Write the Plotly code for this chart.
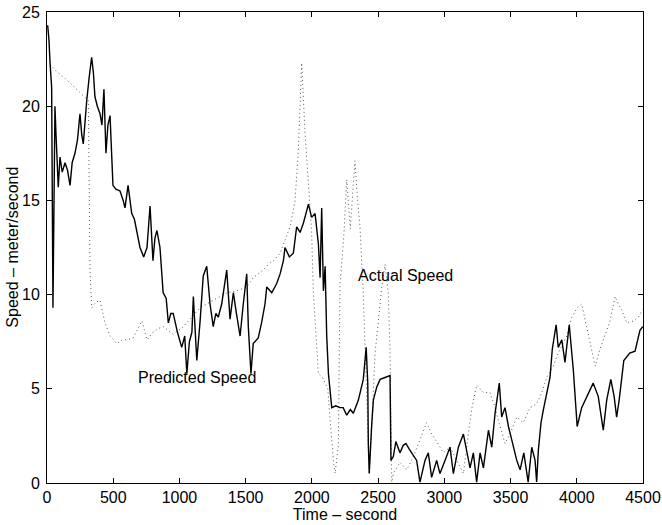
import plotly.graph_objects as go

# Predicted speed (solid line)
pred_t = [5, 15, 23, 35, 45, 52, 60, 68, 78, 85, 98, 115, 136, 155, 174, 190, 211, 230, 249, 262, 274, 288, 300, 318,
          337, 350, 362, 380, 400, 415, 430, 445, 460, 476, 498, 520, 551, 575, 589, 612, 640, 660, 679, 702, 730, 755,
          778, 800, 815, 830, 853, 877, 900, 916, 935, 953, 985, 1017, 1040, 1056, 1075, 1094, 1105, 1131, 1155, 1180,
          1206, 1231, 1255, 1275, 1293, 1319, 1340, 1357, 1382, 1407, 1430, 1458, 1482, 1508, 1520, 1540, 1557, 1595,
          1620, 1646, 1659, 1697, 1735, 1760, 1785, 1797, 1830, 1860, 1885, 1911, 1936, 1974, 1998, 2024, 2049, 2062,
          2074, 2087, 2100, 2112, 2125, 2137, 2150, 2180, 2212, 2236, 2263, 2290, 2313, 2351, 2388, 2410, 2422, 2426,
          2433, 2451, 2464, 2490, 2515, 2552, 2590, 2597, 2615, 2634, 2665, 2690, 2710, 2735, 2753, 2791, 2816, 2854,
          2879, 2904, 2942, 2967, 3005, 3043, 3068, 3106, 3144, 3169, 3194, 3219, 3244, 3270, 3295, 3333, 3358, 3383,
          3415, 3433, 3458, 3484, 3509, 3547, 3572, 3600, 3633, 3660, 3685, 3697, 3710, 3730, 3748, 3773, 3798, 3815,
          3844, 3860, 3887, 3911, 3943, 3974, 4003, 4037, 4075, 4124, 4162, 4200, 4226, 4257, 4282, 4301, 4320, 4355,
          4400, 4440, 4477, 4498]
pred_v = [24.3, 23.5, 22.3, 21.0, 9.3, 15.5, 20.0, 18.5, 17.0, 15.7, 17.3, 16.5, 17.0, 16.6, 15.8, 17.0, 17.5, 18.2,
          19.6, 18.5, 18.0, 19.5, 20.3, 21.5, 22.6, 21.8, 20.5, 20.0, 19.6, 19.0, 20.9, 17.5, 19.0, 19.5, 15.8, 15.6,
          15.5, 15.0, 14.6, 15.8, 14.3, 14.0, 13.4, 12.5, 12.0, 12.5, 14.7, 11.8, 13.0, 13.4, 12.5, 10.1, 9.8, 8.5,
          9.0, 9.0, 8.0, 7.2, 7.8, 5.8, 7.5, 8.0, 9.9, 6.5, 8.5, 11.0, 11.5, 9.5, 8.3, 9.0, 8.8, 9.5, 10.5, 11.3, 8.7,
          10.1, 9.0, 7.8, 9.5, 11.1, 8.3, 5.8, 7.4, 7.7, 8.5, 9.5, 10.4, 10.1, 10.6, 11.1, 11.8, 12.5, 12.0, 12.2, 13.6,
          13.3, 13.8, 14.8, 14.1, 14.3, 12.7, 10.9, 14.6, 10.2, 11.5, 7.8, 5.8, 4.8, 4.0, 4.1, 4.0, 4.0, 3.6, 3.9, 3.7,
          4.4, 5.5, 7.2, 5.3, 2.1, 0.5, 3.0, 4.4, 5.1, 5.5, 5.6, 5.7, 1.2, 1.4, 2.2, 1.6, 2.0, 2.1, 1.8, 1.6, 1.2, 0.05,
          1.2, 1.6, 0.3, 1.2, 0.5, 1.2, 1.9, 0.5, 1.9, 2.6, 1.6, 0.8, 1.6, 0.05, 1.6, 0.8, 2.8, 1.9, 3.7, 5.3, 3.5,
          4.0, 3.0, 2.3, 1.2, 0.7, 1.6, 0.05, 1.9, 1.2, 0.05, 1.75, 3.2, 3.9, 4.8, 5.6, 7.1, 8.4, 7.2, 7.6, 6.4, 8.4,
          6.0, 3.0, 4.0, 4.6, 5.3, 4.6, 2.8, 4.4, 5.5, 4.6, 3.5, 4.4, 6.5, 6.9, 7.0, 8.1, 8.3]

# Actual speed (dotted line)
act_t = [23, 80, 148, 224, 280, 312, 325, 338, 370, 400, 438, 476, 528, 570, 604, 650, 717, 755, 800, 840, 877, 953,
         1030, 1094, 1155, 1255, 1357, 1432, 1508, 1557, 1633, 1684, 1710, 1760, 1835, 1873, 1898, 1923, 1948, 1974,
         1998, 2011, 2036, 2049, 2080, 2120, 2162, 2175, 2200, 2212, 2240, 2263, 2290, 2325, 2345, 2363, 2388, 2410,
         2433, 2455, 2477, 2528, 2552, 2577, 2590, 2603, 2615, 2665, 2716, 2766, 2816, 2866, 2904, 2942, 2992, 3043,
         3093, 3144, 3181, 3206, 3244, 3295, 3345, 3383, 3421, 3458, 3496, 3547, 3597, 3647, 3697, 3735, 3773, 3823,
         3860, 3924, 3962, 4003, 4037, 4075, 4113, 4139, 4175, 4213, 4251, 4289, 4314, 4339, 4377, 4427, 4465, 4498]
act_v = [22.2, 21.8, 21.4, 20.9, 20.5, 20.3, 11.2, 9.3, 9.6, 9.7, 8.5, 7.8, 7.4, 7.6, 7.6, 7.7, 8.6, 7.6, 8.0, 8.2,
         8.3, 7.9, 8.3, 8.8, 9.3, 9.7, 10.1, 10.2, 10.4, 10.9, 11.3, 11.7, 11.8, 12.2, 13.6, 15.0, 17.7, 22.3, 18.6,
         15.9, 13.3, 10.1, 7.4, 5.8, 5.6, 5.0, 1.2, 0.5, 2.0, 10.5, 13.0, 16.1, 13.5, 17.1, 15.0, 13.6, 10.1, 5.0,
         0.5, 3.5, 6.9, 10.4, 11.6, 10.1, 7.0, 0.05, 0.5, 1.1, 0.7, 1.4, 2.3, 3.2, 2.6, 2.2, 1.6, 1.9, 1.2, 0.5, 2.6,
         3.9, 5.2, 4.8, 4.8, 4.0, 3.0, 2.1, 2.6, 3.5, 3.2, 4.0, 4.2, 4.8, 5.6, 6.2, 6.9, 7.8, 8.8, 9.3, 9.5, 8.3, 7.2,
         6.2, 7.1, 7.8, 8.6, 9.9, 9.5, 9.2, 8.5, 8.6, 8.8, 9.2]

x_ticks = [0, 500, 1000, 1500, 2000, 2500, 3000, 3500, 4000, 4500]
y_ticks = [0, 5, 10, 15, 20, 25]

labels = ["Predicted Speed", "Actual Speed"]
label_t = [1130, 2710]
label_v = [5.6, 11.0]

FONT = "Liberation Sans, Arial, Helvetica"

fig = go.Figure()
fig.add_trace(go.Scatter(x=act_t, y=act_v, mode="lines", name="Actual Speed",
                         line=dict(color="#555555", width=1, dash="1px,3px")))
fig.add_trace(go.Scatter(x=pred_t, y=pred_v, mode="lines", name="Predicted Speed",
                         line=dict(color="black", width=1.4)))

for txt, tx, ty in zip(labels, label_t, label_v):
    fig.add_annotation(x=tx, y=ty, text=txt, showarrow=False,
                       font=dict(family=FONT, size=16, color="black"))

# y-axis title placed as a rotated annotation
fig.add_annotation(xref="paper", yref="paper", x=-0.0585, y=0.5, text="Speed – meter/second",
                   textangle=-90, showarrow=False, xanchor="center", yanchor="middle",
                   font=dict(family=FONT, size=16, color="black"))

axis_common = dict(showgrid=False, zeroline=False, showline=True, linecolor="black", linewidth=1,
                   mirror="ticks", ticks="inside", ticklen=5, tickcolor="black", automargin=False,
                   tickfont=dict(family=FONT, size=16, color="black"))

fig.update_xaxes(range=[0, 4500], tickvals=x_ticks, ticktext=[str(v) for v in x_ticks],
                 title=dict(text="Time – second", standoff=2,
                            font=dict(family=FONT, size=16, color="black")),
                 **axis_common)
fig.update_yaxes(range=[0, 25], tickvals=y_ticks, ticktext=[str(v) for v in y_ticks],
                 ticklabelstandoff=3, **axis_common)

fig.update_layout(width=662, height=525, showlegend=False,
                  margin=dict(l=47, r=19, t=12, b=42),
                  plot_bgcolor="white", paper_bgcolor="white")

fig.write_html("out.html")
